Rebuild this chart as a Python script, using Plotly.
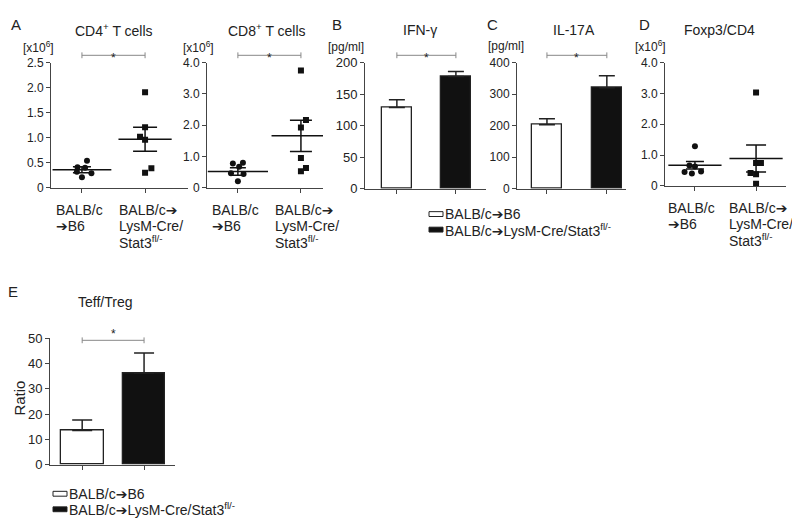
import plotly.graph_objects as go

# ---------------- data ----------------
ARW = "<span style='font-family:DejaVu Sans'>➔</span>"
group_lines_1 = ["BALB/c", ARW + "B6"]
group_lines_2 = ["BALB/c" + ARW, "LysM-Cre/", "Stat3<sup>fl/-</sup>"]
legend_labels = ["BALB/c" + ARW + "B6", "BALB/c" + ARW + "LysM-Cre/Stat3<sup>fl/-</sup>"]

cd4_g1 = [0.54, 0.41, 0.40, 0.32, 0.29, 0.21]
cd4_g2 = [1.91, 1.21, 1.02, 0.96, 0.39, 0.30]
cd4_mean = [0.36, 0.97]
cd4_sem = [0.06, 0.24]

cd8_g1 = [0.78, 0.80, 0.67, 0.47, 0.44, 0.21]
cd8_g2 = [3.75, 2.17, 1.93, 0.95, 0.63, 0.53]
cd8_mean = [0.52, 1.66]
cd8_sem = [0.12, 0.50]

foxp3_g1 = [1.29, 0.66, 0.63, 0.45, 0.40, 0.47]
foxp3_g2 = [3.03, 0.74, 0.74, 0.42, 0.38, 0.07]
foxp3_mean = [0.67, 0.89]
foxp3_sem = [0.12, 0.44]

ifn_mean = [129, 178]
ifn_sem = [12, 8]
il17_mean = [203, 320]
il17_sem = [19, 38]
ratio_mean = [13.5, 36.3]
ratio_sem = [4.2, 7.9]

# horizontal spread of dots (category units)
cd4_j1 = [0.08, -0.07, 0.05, -0.08, 0.15, 0.0]
cd4_j2 = [0.0, 0.0, -0.08, 0.0, 0.10, 0.0]
cd8_j1 = [-0.08, 0.08, 0.02, -0.11, 0.09, 0.0]
cd8_j2 = [0.0, 0.08, 0.0, 0.0, 0.08, 0.0]
fox_j1 = [0.0, -0.09, 0.0, -0.17, -0.05, 0.10]
fox_j2 = [0.0, 0.0, 0.08, -0.09, 0.0, 0.0]

# ---------------- helpers ----------------
W, H = 800, 519
FONT = "Liberation Sans, Arial, sans-serif"
TXT = "#222"
AX = "#444"


def py(y):
    return 1 - y / H


def pxx(x):
    return x / W


fig = go.Figure()
annotations = []
shapes = []

panels = {
    1: dict(x0=43, x1=180, yt=49, yb=178, xr=[-0.49, 1.68], yr=[0, 2.5],
            tv=[0, 0.5, 1.0, 1.5, 2.0, 2.5], tt=["0", "0.5", "1.0", "1.5", "2.0", "2.5"], tf=12),
    2: dict(x0=199, x1=315, yt=49, yb=178, xr=[-0.49, 1.35], yr=[0, 4.0],
            tv=[0, 1, 2, 3, 4], tt=["0", "1.0", "2.0", "3.0", "4.0"], tf=12),
    3: dict(x0=357, x1=478, yt=49, yb=179, xr=[-0.54, 1.51], yr=[0, 200],
            tv=[0, 50, 100, 150, 200], tt=["0", "50", "100", "150", "200"], tf=13),
    4: dict(x0=509, x1=618, yt=49, yb=179, xr=[-0.5, 1.32], yr=[0, 400],
            tv=[0, 100, 200, 300, 400], tt=["0", "100", "200", "300", "400"], tf=12),
    5: dict(x0=657, x1=778, yt=49, yb=176, xr=[-0.49, 1.49], yr=[0, 4.0],
            tv=[0, 1, 2, 3, 4], tt=["0", "1.0", "2.0", "3.0", "4.0"], tf=12),
    6: dict(x0=42, x1=167, yt=333, yb=463, xr=[-0.52, 1.5], yr=[0, 50],
            tv=[0, 10, 20, 30, 40, 50], tt=["0", "10", "20", "30", "40", "50"], tf=13),
}

layout_axes = {}
for i, p in panels.items():
    xn = "xaxis" if i == 1 else f"xaxis{i}"
    yn = "yaxis" if i == 1 else f"yaxis{i}"
    ya = "y" if i == 1 else f"y{i}"
    xa = "x" if i == 1 else f"x{i}"
    layout_axes[xn] = dict(domain=[pxx(p["x0"]), pxx(p["x1"])], range=p["xr"], anchor=ya,
                           showline=True, linecolor=AX, linewidth=1, ticks="outside",
                           ticklen=4, tickcolor=AX, tickvals=[0, 1], showticklabels=False,
                           showgrid=False, zeroline=False, fixedrange=True)
    layout_axes[yn] = dict(domain=[py(p["yb"]), py(p["yt"])], range=p["yr"], anchor=xa,
                           showline=True, linecolor=AX, linewidth=1, ticks="outside",
                           ticklen=4, tickcolor=AX, tickvals=p["tv"], ticktext=p["tt"],
                           tickfont=dict(size=p["tf"], color=TXT, family=FONT),
                           showgrid=False, zeroline=False, fixedrange=True)


def refs(i):
    return ("x" if i == 1 else f"x{i}"), ("y" if i == 1 else f"y{i}")


def scatter_panel(i, g1, g2, j1, j2, mean, sem, mw, cw):
    xa, ya = refs(i)
    fig.add_trace(go.Scatter(x=[0 + j for j in j1], y=g1, mode="markers", xaxis=xa, yaxis=ya,
                             marker=dict(symbol="circle", size=6, color="#111"), showlegend=False))
    fig.add_trace(go.Scatter(x=[1 + j for j in j2], y=g2, mode="markers", xaxis=xa, yaxis=ya,
                             marker=dict(symbol="square", size=6, color="#111"), showlegend=False))
    for k in range(2):
        fig.add_trace(go.Scatter(x=[k], y=[mean[k]], mode="markers", xaxis=xa, yaxis=ya,
                                 marker=dict(symbol="line-ew", size=mw[k], color="#111",
                                             line=dict(width=1.5, color="#111")),
                                 error_y=dict(type="data", array=[sem[k]], width=cw[k],
                                              thickness=1.5, color="#111"),
                                 showlegend=False))


def bar_panel(i, mean, sem, width, capw):
    xa, ya = refs(i)
    fig.add_trace(go.Bar(x=[0, 1], y=mean, width=width, xaxis=xa, yaxis=ya,
                         marker=dict(color=["white", "#111"], line=dict(color="#222", width=1.3)),
                         error_y=dict(type="data", array=sem, arrayminus=[0, 0], symmetric=False,
                                      width=capw, thickness=1.5, color="#222"),
                         showlegend=False))


def category_labels(i, ys, shift):
    xa, _ = refs(i)
    for k, lines in enumerate([group_lines_1, group_lines_2]):
        for n, t in enumerate(lines):
            annotations.append(dict(text=t, x=k, xref=xa, y=py(ys[n]), yref="paper",
                                    xanchor="left", yanchor="middle", xshift=shift,
                                    showarrow=False, font=dict(size=14, color=TXT, family=FONT)))


def bracket(i, ypx, starpx):
    xa, _ = refs(i)
    shapes.append(dict(type="line", xref=xa, yref="paper", x0=0, x1=1, y0=py(ypx), y1=py(ypx),
                       line=dict(color="#888", width=1)))
    for k in range(2):
        shapes.append(dict(type="line", xref=xa, yref="paper", x0=k, x1=k,
                           y0=py(ypx - 3), y1=py(ypx + 3), line=dict(color="#888", width=1)))
    annotations.append(dict(text="*", x=0.5, xref=xa, y=py(starpx), yref="paper",
                            showarrow=False, font=dict(size=12, color=TXT, family=FONT)))


def text(t, x, y, size=14, xanchor="center"):
    annotations.append(dict(text=t, x=pxx(x), y=py(y), xref="paper", yref="paper",
                            xanchor=xanchor, yanchor="middle", showarrow=False,
                            font=dict(size=size, color=TXT, family=FONT)))


# ---------------- panels ----------------
scatter_panel(1, cd4_g1, cd4_g2, cd4_j1, cd4_j2, cd4_mean, cd4_sem, [42, 38], [9, 12])
scatter_panel(2, cd8_g1, cd8_g2, cd8_j1, cd8_j2, cd8_mean, cd8_sem, [43, 42], [8, 11])
bar_panel(3, ifn_mean, ifn_sem, 0.51, 8)
bar_panel(4, il17_mean, il17_sem, 0.5, 8)
scatter_panel(5, foxp3_g1, foxp3_g2, fox_j1, fox_j2, foxp3_mean, foxp3_sem, [38, 38], [9, 10])
bar_panel(6, ratio_mean, ratio_sem, 0.69, 10)

category_labels(1, [201, 217, 234], -28)
category_labels(2, [201, 217, 234], -28)
category_labels(5, [199, 215, 232], -29)

bracket(1, 41.5, 35)
bracket(2, 41.5, 35)
bracket(3, 41.5, 35)
bracket(4, 41.5, 35)
bracket(6, 335, 329)

# titles & panel letters
text("CD4<sup>+</sup> T cells", 106, 15)
text("CD8<sup>+</sup> T cells", 259, 15)
text("IFN-γ", 412, 15)
text("IL-17A", 566, 15)
text("Foxp3/CD4", 711, 15)
text("Teff/Treg", 97, 296)
text("A", 8, 10, 15)
text("B", 329, 10, 15)
text("C", 485, 10, 15)
text("D", 636, 10, 15)
text("E", 5, 285, 15)

# units
text("[x10<sup>6</sup>]", 30, 33, 12)
text("[x10<sup>6</sup>]", 190, 33, 12)
text("[pg/ml]", 338, 33, 12)
text("[pg/ml]", 498, 32, 12)
text("[x10<sup>6</sup>]", 642, 32, 12)
annotations.append(dict(text="Ratio", x=pxx(12), y=py(395), xref="paper", yref="paper",
                        textangle=-90, showarrow=False, xanchor="center", yanchor="middle",
                        font=dict(size=15, color=TXT, family=FONT)))


# legends
def legend(xs, ytop, labels):
    fills = ["white", "#111"]
    for k, lab in enumerate(labels):
        yc = ytop + k * 16
        shapes.append(dict(type="rect", xref="paper", yref="paper",
                           x0=pxx(xs), x1=pxx(xs + 14), y0=py(yc + 2.5), y1=py(yc - 2.5),
                           fillcolor=fills[k], line=dict(color="#222", width=1)))
        annotations.append(dict(text=lab, x=pxx(xs + 14), y=py(yc), xref="paper", yref="paper",
                                xanchor="left", yanchor="middle", showarrow=False,
                                font=dict(size=14, color=TXT, family=FONT)))


legend(421, 205, legend_labels)
legend(45, 493, legend_labels)

fig.update_layout(width=W, height=H, margin=dict(l=0, r=0, t=0, b=0),
                  paper_bgcolor="white", plot_bgcolor="white", showlegend=False,
                  annotations=annotations, shapes=shapes,
                  font=dict(family=FONT, color=TXT), bargap=0, **layout_axes)

fig.write_html("out.html")
